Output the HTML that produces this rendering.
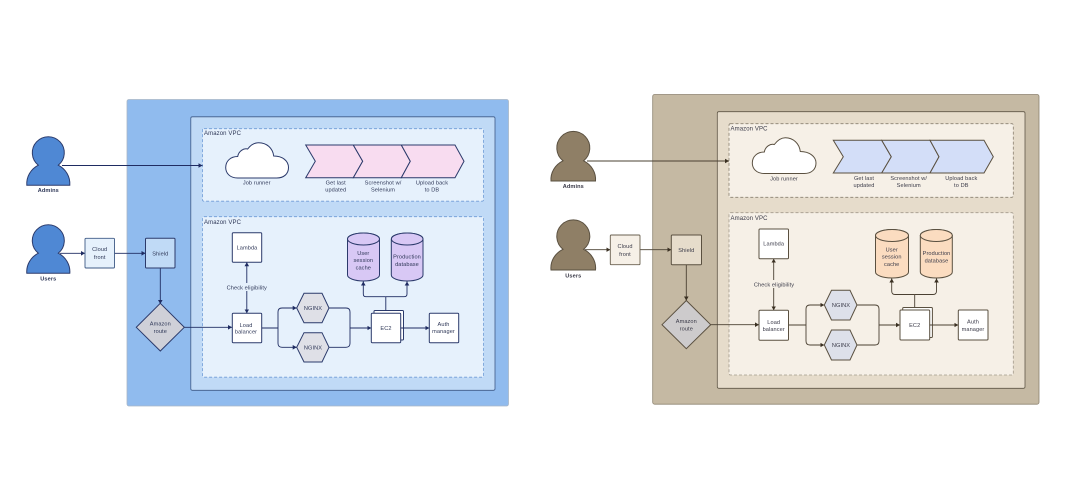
<!DOCTYPE html>
<html><head><meta charset="utf-8"><style>
html,body{margin:0;padding:0;background:#fff;width:1080px;height:478px;overflow:hidden}
svg{display:block;filter:blur(.35px)}
text{font-family:"Liberation Sans",sans-serif;font-size:5.6px;text-anchor:middle;letter-spacing:.1px}
.v{text-anchor:start;font-size:6px}
.b{font-weight:bold}
.L text{fill:#2f3858}.R text{fill:#3a3a48}
.L .s{stroke:#2b3a6b;stroke-width:1}.R .s{stroke:#5a5040;stroke-width:1}
.L .c{fill:none;stroke:#1f2c62;stroke-width:.9;marker-end:url(#aL)}
.R .c{fill:none;stroke:#4a4032;stroke-width:.9;marker-end:url(#aR)}
.L .n{fill:none;stroke:#1f2c62;stroke-width:.9}
.R .n{fill:none;stroke:#4a4032;stroke-width:.9}
</style></head><body>
<svg width="1080" height="478" viewBox="0 0 1080 478" xmlns="http://www.w3.org/2000/svg">
<defs>
<marker id="aL" markerUnits="userSpaceOnUse" markerWidth="5" markerHeight="5" refX="4" refY="2.5" orient="auto-start-reverse"><path d="M0 .2L4 2.5L0 4.8Z" fill="#1f2c62"/></marker>
<marker id="aR" markerUnits="userSpaceOnUse" markerWidth="5" markerHeight="5" refX="4" refY="2.5" orient="auto-start-reverse"><path d="M0 .2L4 2.5L0 4.8Z" fill="#3a3022"/></marker>
</defs>

<!-- LEFT -->
<g class="L">
<rect x="127" y="99.5" width="381.5" height="306.5" rx="2" fill="#90bbee" stroke="#a9b6c6" stroke-width=".8"/>
<rect x="190.8" y="116.8" width="304.2" height="273.5" rx="1.5" fill="#c0daf6" stroke="#3f5a86" stroke-width=".8"/>
<rect x="202.5" y="128.7" width="281" height="72.5" rx="1.5" fill="#e6f1fc" stroke="#6f9bd6" stroke-width=".8" stroke-dasharray="3 2"/>
<rect x="202.5" y="216.7" width="281" height="160.5" rx="1.5" fill="#e6f1fc" stroke="#6f9bd6" stroke-width=".8" stroke-dasharray="3 2"/>
<text class="v" x="204" y="134.8">Amazon VPC</text>
<text class="v" x="204" y="223.8">Amazon VPC</text>

<path class="s" fill="#4f88d4" d="M38.3 165.2A16 16 0 1 1 58.3 165.2A22 21 0 0 1 69.8 185.3L26.8 185.3A22 21 0 0 1 38.3 165.2Z"/>
<text class="b" x="48.3" y="192">Admins</text>
<path class="s" fill="#4f88d4" d="M38.3 253.2A16 16 0 1 1 58.3 253.2A22 21 0 0 1 69.8 273.3L26.8 273.3A22 21 0 0 1 38.3 253.2Z"/>
<text class="b" x="48.3" y="280.5">Users</text>

<path class="c" d="M62 165.5H202.5"/>
<path class="c" d="M60 253.3H85"/>
<path class="c" d="M114.5 253.3H145.5"/>
<path class="c" d="M160.3 268V304"/>
<path class="c" d="M184 327.3H232"/>
<path class="c" d="M246.8 262.3V313.3" marker-start="url(#aL)"/>
<path class="n" d="M261.5 328H278"/>
<path class="c" d="M278 328V312Q278 308 282 308H296.7"/>
<path class="c" d="M278 328V343.3Q278 347.3 282 347.3H296.7"/>
<path class="n" d="M329 308H346Q350 308 350 312V328"/>
<path class="n" d="M329 347.3H346Q350 347.3 350 343.3V328"/>
<path class="c" d="M350 328H371.3"/>
<path class="c" d="M385.8 296.7H366Q363.3 296.7 363.3 294V281.5"/>
<path class="c" d="M385.8 296.7H404Q407 296.7 407 294V281.5"/>

<rect x="85" y="238.3" width="29.5" height="29.7" rx="1" fill="#e6f1fc" stroke="#3f5a86" stroke-width=".9"/>
<text x="99.7" y="251">Cloud</text><text x="99.7" y="259">front</text>
<rect x="145.5" y="238.3" width="29.5" height="29.7" rx="1" fill="#c0daf6" stroke="#2b3a6b"/>
<text x="160.3" y="255.3">Shield</text>
<path d="M160.3 303.3L184.3 327.3L160.3 351L136.3 327.3Z" fill="#cfd0d8" stroke="#2b3a6b"/>
<text x="160.3" y="325.5">Amazon</text><text x="160.3" y="333">route</text>

<path class="s" fill="#fff" d="M237.7 178C229.7 178 225.7 173 225.7 167.5C225.7 161 230.7 156.5 237.7 156.5C238.7 151 243.7 148 247.7 149C250.7 145 254.7 142.7 258.7 142.7C266.7 142.7 272.7 148 273.7 156C282.7 156 288.5 161 288.5 167.5C288.5 174 283.7 178 276.7 178Z"/>
<text x="256.7" y="184.6">Job runner</text>

<path class="s" fill="#f8dcf0" d="M305.7 145H353.3L362.7 161.3L353.3 177.7H305.7L315.3 161.3Z"/>
<path class="s" fill="#f8dcf0" d="M353.3 145H401.3L410.3 161.3L401.3 177.7H353.3L362.7 161.3Z"/>
<path class="s" fill="#f8dcf0" d="M401.3 145H455L464 161.3L455 177.7H401.3L410.3 161.3Z"/>
<text x="335.7" y="184.6">Get last</text><text x="335.7" y="191.5">updated</text>
<text x="383" y="184.6">Screenshot w/</text><text x="383" y="191.5">Selenium</text>
<text x="432" y="184.6">Upload back</text><text x="432" y="191.5">to DB</text>

<rect x="232.3" y="232.7" width="29.4" height="29.6" rx="1" fill="#fff" stroke="#2b3a6b"/>
<text x="247" y="249.5">Lambda</text>
<rect x="225" y="283" width="44" height="8" fill="#e6f1fc"/>
<text x="246.8" y="289.3">Check eligibility</text>
<rect x="232.3" y="313.3" width="29.4" height="29.4" rx="1" fill="#fff" stroke="#2b3a6b"/>
<text x="246" y="327">Load</text><text x="246" y="333.5">balancer</text>

<path class="s" fill="#dfe0e7" d="M304 293.3H322L329 308L322 322.7H304L296.7 308Z"/>
<text x="313" y="310">NGINX</text>
<path class="s" fill="#dfe0e7" d="M304 332.7H322L329 347.3L322 362H304L296.7 347.3Z"/>
<text x="313" y="349.3">NGINX</text>

<rect x="374" y="310.5" width="29.5" height="29.5" rx="1" fill="#fff" stroke="#2b3a6b"/>
<rect x="371.3" y="313.3" width="29.4" height="29.4" rx="1" fill="#fff" stroke="#2b3a6b"/>
<text x="386" y="330">EC2</text>
<path class="n" d="M385.8 310.5V296.7"/>
<path class="c" d="M400.7 328H429.3"/>
<rect x="429.3" y="313.3" width="29.4" height="29.4" rx="1" fill="#fff" stroke="#2b3a6b"/>
<text x="443.5" y="326">Auth</text><text x="443.5" y="333">manager</text>

<path class="s" fill="#d8c8f5" d="M347.5 239V275A16 6 0 0 0 379.5 275V239A16 6 0 0 0 347.5 239Z"/>
<ellipse class="s" cx="363.5" cy="239" rx="16" ry="6" fill="#d8c8f5"/>
<text x="363.3" y="255">User</text><text x="363.3" y="262">session</text><text x="363.3" y="269.3">cache</text>
<path class="s" fill="#d8c8f5" d="M391.3 239V275A15.8 6 0 0 0 423 275V239A15.8 6 0 0 0 391.3 239Z"/>
<ellipse class="s" cx="407.2" cy="239" rx="15.8" ry="6" fill="#d8c8f5"/>
<text x="407" y="258.5">Production</text><text x="407" y="266">database</text>
</g>

<!-- RIGHT -->
<g class="R">
<rect x="652.7" y="94.5" width="386.3" height="309.7" rx="2" fill="#c5b9a3" stroke="#8d8370" stroke-width=".8"/>
<rect x="717.3" y="111.7" width="307.7" height="276.6" rx="1.5" fill="#e6dccb" stroke="#5f5646" stroke-width=".8"/>
<rect x="729" y="123.7" width="284.3" height="73.6" rx="1.5" fill="#f6f0e7" stroke="#8a8172" stroke-width=".8" stroke-dasharray="3 2"/>
<rect x="729" y="212.7" width="284.3" height="162.3" rx="1.5" fill="#f6f0e7" stroke="#a39a8c" stroke-width=".8" stroke-dasharray="3 2"/>
<text class="v" x="730.5" y="130.5">Amazon VPC</text>
<text class="v" x="730.5" y="219.8">Amazon VPC</text>

<path class="s" fill="#8f7f66" d="M563 160.8A16.5 16.5 0 1 1 583.6 160.8A22.5 21 0 0 1 595.5 181L551 181A22.5 21 0 0 1 563 160.8Z"/>
<text class="b" x="573.3" y="188">Admins</text>
<path class="s" fill="#8f7f66" d="M563 249.3A16.5 16.5 0 1 1 583.6 249.3A22.5 21 0 0 1 595.5 270L551 270A22.5 21 0 0 1 563 249.3Z"/>
<text class="b" x="573.3" y="277.5">Users</text>

<path class="c" d="M587 161H729"/>
<path class="c" d="M585 249.7H610.3"/>
<path class="c" d="M640 249.7H671.3"/>
<path class="c" d="M686.3 264.7V300.5"/>
<path class="c" d="M710.5 324.7H759"/>
<path class="c" d="M773.7 258.7V310.3" marker-start="url(#aR)"/>
<path class="n" d="M788.5 325H806"/>
<path class="c" d="M806 325V309Q806 305 810 305H824.3"/>
<path class="c" d="M806 325V341Q806 345 810 345H824.3"/>
<path class="n" d="M857 305H875Q879 305 879 309V325"/>
<path class="n" d="M857 345H875Q879 345 879 341V325"/>
<path class="c" d="M879 325H900"/>
<path class="c" d="M914.7 294.5H895Q891.7 294.5 891.7 291V278.5"/>
<path class="c" d="M914.7 294.5H933Q936.5 294.5 936.5 291V278.5"/>

<rect x="610.3" y="235" width="29.7" height="29.7" rx="1" fill="#f6f0e7" stroke="#6a6150" stroke-width=".9"/>
<text x="625" y="248">Cloud</text><text x="625" y="256">front</text>
<rect x="671.3" y="235" width="30.2" height="29.7" rx="1" fill="#e6dccb" stroke="#5a5040"/>
<text x="686.3" y="251.8">Shield</text>
<path d="M686.3 300.5L710.7 324.7L686.3 348.7L662 324.7Z" fill="#cdcbcc" stroke="#5a5040"/>
<text x="686.3" y="323">Amazon</text><text x="686.3" y="330.5">route</text>

<path class="s" fill="#fff" d="M764.3 173.5C756.3 173.5 752.3 168.5 752.3 163C752.3 156.5 757.3 152 764.3 152C765.3 146.5 770.3 143.5 774.3 144.5C777.3 140.5 781.3 137.7 785.3 137.7C793.3 137.7 799.3 143.5 800.3 151.5C809.3 151.5 816 156.5 816 163C816 169.5 811.3 173.5 804.3 173.5Z"/>
<text x="784" y="180.3">Job runner</text>

<path class="s" fill="#d3def8" d="M833.3 140.3H881.7L891.3 156.7L881.7 173H833.3L843.3 156.7Z"/>
<path class="s" fill="#d3def8" d="M881.7 140.3H930L939 156.7L930 173H881.7L891.3 156.7Z"/>
<path class="s" fill="#d3def8" d="M930 140.3H984L993.3 156.7L984 173H930L939 156.7Z"/>
<text x="864" y="180">Get last</text><text x="864" y="187">updated</text>
<text x="908.7" y="180">Screenshot w/</text><text x="908.7" y="187">Selenium</text>
<text x="961.3" y="180">Upload back</text><text x="961.3" y="187">to DB</text>

<rect x="759" y="229" width="29.5" height="29.7" rx="1" fill="#fff" stroke="#5a5040"/>
<text x="773.7" y="245.7">Lambda</text>
<rect x="752" y="280" width="44" height="8" fill="#f6f0e7"/>
<text x="774" y="286.3">Check eligibility</text>
<rect x="759" y="310.3" width="29.5" height="30" rx="1" fill="#fff" stroke="#5a5040"/>
<text x="773.7" y="324">Load</text><text x="773.7" y="331">balancer</text>

<path class="s" fill="#dde0ea" d="M831.5 290.3H850L857 305L850 320H831.5L824.3 305Z"/>
<text x="841" y="307">NGINX</text>
<path class="s" fill="#dde0ea" d="M831.5 330H850L857 345L850 360H831.5L824.3 345Z"/>
<text x="841" y="347">NGINX</text>

<rect x="902.7" y="307.5" width="29.7" height="30" rx="1" fill="#fff" stroke="#5a5040"/>
<rect x="900" y="310" width="29.7" height="30" rx="1" fill="#fff" stroke="#5a5040"/>
<text x="914.7" y="327">EC2</text>
<path class="n" d="M914.7 307.5V294.5"/>
<path class="c" d="M929.7 325H958.3"/>
<rect x="958.3" y="310" width="29.7" height="30" rx="1" fill="#fff" stroke="#5a5040"/>
<text x="973" y="323.3">Auth</text><text x="973" y="331">manager</text>

<path class="s" fill="#fbdcc0" d="M875.5 235.5V272A16.5 6 0 0 0 908.5 272V235.5A16.5 6 0 0 0 875.5 235.5Z"/>
<ellipse class="s" cx="892" cy="235.5" rx="16.5" ry="6" fill="#fbdcc0"/>
<text x="891.7" y="251.5">User</text><text x="891.7" y="258.7">session</text><text x="891.7" y="266">cache</text>
<path class="s" fill="#fbdcc0" d="M920.3 235.5V272A16 6 0 0 0 952.3 272V235.5A16 6 0 0 0 920.3 235.5Z"/>
<ellipse class="s" cx="936.3" cy="235.5" rx="16" ry="6" fill="#fbdcc0"/>
<text x="936.5" y="255">Production</text><text x="936.5" y="262.5">database</text>
</g>
</svg>
</body></html>
